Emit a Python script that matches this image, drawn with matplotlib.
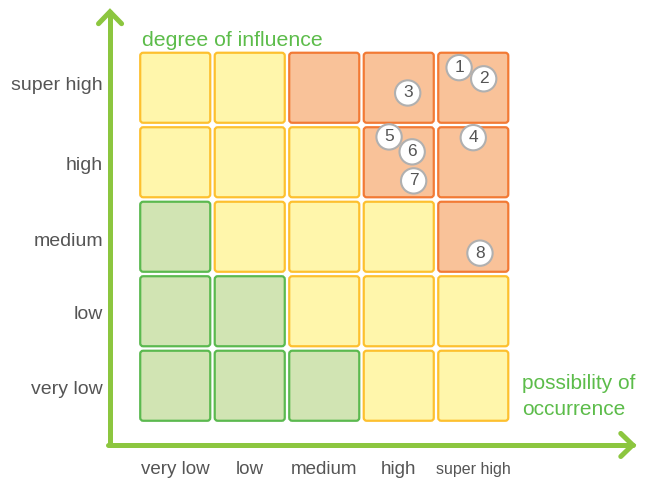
import matplotlib.pyplot as plt
from matplotlib.patches import FancyBboxPatch, Circle

levels = ["very low", "low", "medium", "high", "super high"]

# zone of each cell, rows from "very low" (bottom) up to "super high"
zones = [
    ["g", "g", "g", "y", "y"],
    ["g", "g", "y", "y", "y"],
    ["g", "y", "y", "y", "o"],
    ["y", "y", "y", "o", "o"],
    ["y", "y", "o", "o", "o"],
]

# risk items: number, occurrence position, influence position
risk_ids = [1, 2, 3, 4, 5, 6, 7, 8]
risk_x = [4.31, 4.64, 3.62, 4.50, 3.37, 3.68, 3.70, 4.59]
risk_y = [4.77, 4.62, 4.43, 3.83, 3.84, 3.64, 3.25, 2.28]

fill = {"g": "#d1e4b3", "y": "#fff6ab", "o": "#f9c299"}
edge = {"g": "#5bb94f", "y": "#fdc02f", "o": "#f27a35"}
arrow_c = "#8cc63f"
label_c = "#5cbc4a"
text_c = "#555555"

fig = plt.figure(figsize=(6.52, 4.82), dpi=100)
ax = fig.add_axes([0, 0, 1, 1])
ax.set_xlim(-1.852, 6.899)
ax.set_ylim(-0.792, 5.678)
ax.axis("off")

gap = 0.03
for r in range(5):
    for c in range(5):
        z = zones[r][c]
        box = FancyBboxPatch((c + gap, r + gap), 1 - 2 * gap, 1 - 2 * gap,
                             boxstyle="round,pad=0,rounding_size=0.04",
                             fc=fill[z], ec=edge[z], lw=1.6)
        ax.add_patch(box)

for n, x, y in zip(risk_ids, risk_x, risk_y):
    ax.add_patch(Circle((x, y), 0.17, fc="white", ec="#b0b0b0", lw=1.5, zorder=3))
    ax.text(x, y, str(n), ha="center", va="center", fontsize=12.5,
            color=text_c, family="Liberation Sans", zorder=4)

# axes arrows
ax.plot([-0.376, -0.376], [-0.30, 5.52], color=arrow_c, lw=3.6, solid_capstyle="round")
ax.plot([-0.53, -0.376, -0.22], [5.36, 5.52, 5.36], color=arrow_c, lw=3.6,
        solid_capstyle="round", solid_joinstyle="miter")
ax.plot([-0.40, 6.64], [-0.295, -0.295], color=arrow_c, lw=3.6, solid_capstyle="round")
ax.plot([6.48, 6.64, 6.48], [-0.14, -0.295, -0.45], color=arrow_c, lw=3.6,
        solid_capstyle="round", solid_joinstyle="miter")

row_off = [0.45, 0.45, 0.44, 0.46, 0.53]
for i, lab in enumerate(levels):
    ax.text(-0.47, i + row_off[i], lab, ha="right", va="center", fontsize=14,
            color=text_c, family="Liberation Sans")
    if lab == "super high":
        ax.text(i + 0.5, -0.63, lab, ha="center", va="center", fontsize=11.5,
                color=text_c, family="Liberation Sans")
    else:
        ax.text(i + 0.5, -0.63, lab, ha="center", va="center", fontsize=13.5,
                color=text_c, family="Liberation Sans")

ax.text(0.05, 5.13, "degree of influence", ha="left", va="center", fontsize=15.3,
        color=label_c, family="Liberation Sans")
ax.text(5.16, 0.356, "possibility of\noccurrence", ha="left", va="center", fontsize=15,
        color=label_c, family="Liberation Sans", linespacing=1.45)

fig.savefig("out.png", dpi=100)
